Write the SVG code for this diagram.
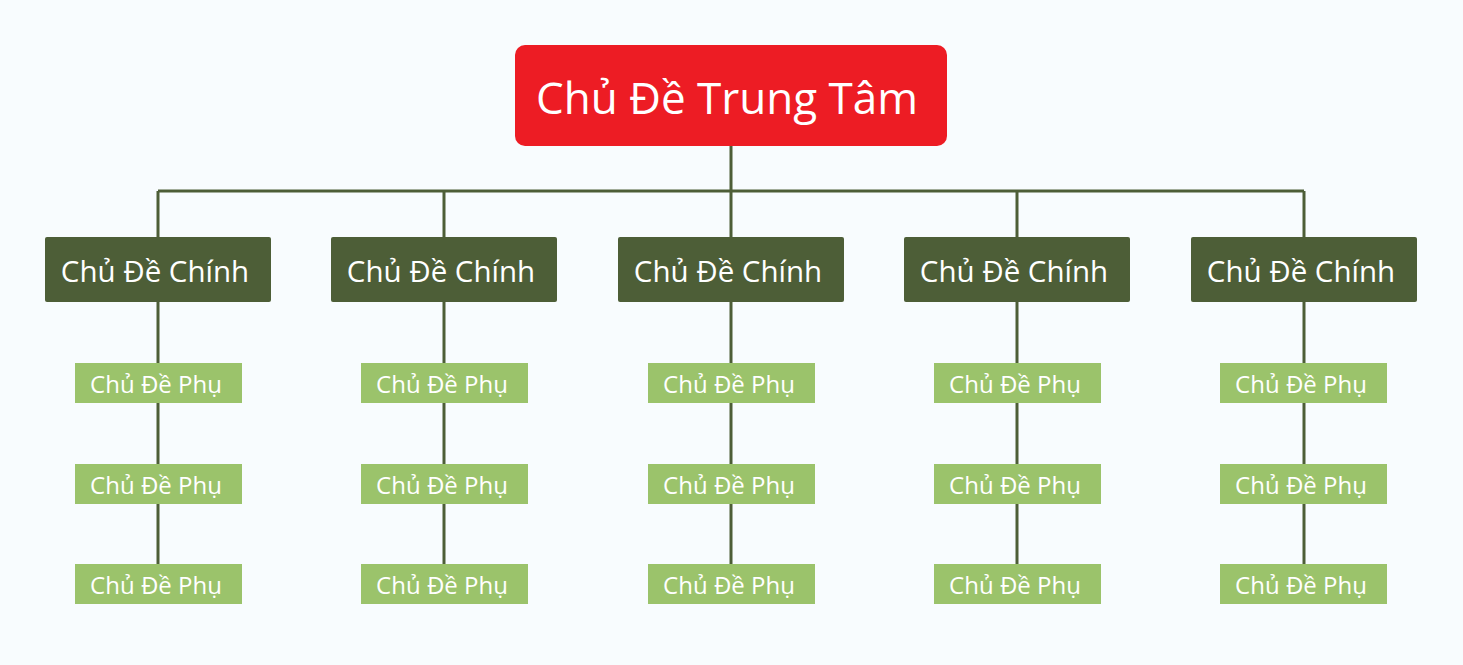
<svg xmlns="http://www.w3.org/2000/svg" width="1463" height="665" viewBox="0 0 1463 665">
<style>
.m{fill:#4D5E37}.s{fill:#9BC36B}
text{font-family:"Open Sans","Noto Sans",sans-serif;fill:#fff;text-anchor:middle;dominant-baseline:central}
.tm{font-size:29.5px}.ts{font-size:24px}
.c{stroke:#4D5E37;stroke-width:3;fill:none}
</style>
<rect width="1463" height="665" fill="#F8FCFE"/>
<g id="connectors" class="c">
<path d="M731 146V191M158 191H1304"/>
<path d="M158 191V564M444 191V564M731 191V564M1017 191V564M1304 191V564"/>
</g>
<g id="root"><rect x="515" y="45" width="432" height="101" rx="10" fill="#ED1C24"/><text x="727" y="97" style="font-size:44px">Chủ Đề Trung Tâm</text></g>
<g id="m1"><rect class="m" x="45" y="237" width="226" height="65" rx="2"/><text class="tm" x="155" y="270">Chủ Đề Chính</text></g>
<g id="m2"><rect class="m" x="331" y="237" width="226" height="65" rx="2"/><text class="tm" x="441" y="270">Chủ Đề Chính</text></g>
<g id="m3"><rect class="m" x="618" y="237" width="226" height="65" rx="2"/><text class="tm" x="728" y="270">Chủ Đề Chính</text></g>
<g id="m4"><rect class="m" x="904" y="237" width="226" height="65" rx="2"/><text class="tm" x="1014" y="270">Chủ Đề Chính</text></g>
<g id="m5"><rect class="m" x="1191" y="237" width="226" height="65" rx="2"/><text class="tm" x="1301" y="270">Chủ Đề Chính</text></g>
<g id="s1a"><rect class="s" x="75" y="363" width="167" height="40"/><text class="ts" x="156" y="383">Chủ Đề Phụ</text></g>
<g id="s1b"><rect class="s" x="75" y="464" width="167" height="40"/><text class="ts" x="156" y="484">Chủ Đề Phụ</text></g>
<g id="s1c"><rect class="s" x="75" y="564" width="167" height="40"/><text class="ts" x="156" y="584">Chủ Đề Phụ</text></g>
<g id="s2a"><rect class="s" x="361" y="363" width="167" height="40"/><text class="ts" x="442" y="383">Chủ Đề Phụ</text></g>
<g id="s2b"><rect class="s" x="361" y="464" width="167" height="40"/><text class="ts" x="442" y="484">Chủ Đề Phụ</text></g>
<g id="s2c"><rect class="s" x="361" y="564" width="167" height="40"/><text class="ts" x="442" y="584">Chủ Đề Phụ</text></g>
<g id="s3a"><rect class="s" x="648" y="363" width="167" height="40"/><text class="ts" x="729" y="383">Chủ Đề Phụ</text></g>
<g id="s3b"><rect class="s" x="648" y="464" width="167" height="40"/><text class="ts" x="729" y="484">Chủ Đề Phụ</text></g>
<g id="s3c"><rect class="s" x="648" y="564" width="167" height="40"/><text class="ts" x="729" y="584">Chủ Đề Phụ</text></g>
<g id="s4a"><rect class="s" x="934" y="363" width="167" height="40"/><text class="ts" x="1015" y="383">Chủ Đề Phụ</text></g>
<g id="s4b"><rect class="s" x="934" y="464" width="167" height="40"/><text class="ts" x="1015" y="484">Chủ Đề Phụ</text></g>
<g id="s4c"><rect class="s" x="934" y="564" width="167" height="40"/><text class="ts" x="1015" y="584">Chủ Đề Phụ</text></g>
<g id="s5a"><rect class="s" x="1220" y="363" width="167" height="40"/><text class="ts" x="1301" y="383">Chủ Đề Phụ</text></g>
<g id="s5b"><rect class="s" x="1220" y="464" width="167" height="40"/><text class="ts" x="1301" y="484">Chủ Đề Phụ</text></g>
<g id="s5c"><rect class="s" x="1220" y="564" width="167" height="40"/><text class="ts" x="1301" y="584">Chủ Đề Phụ</text></g>
</svg>
